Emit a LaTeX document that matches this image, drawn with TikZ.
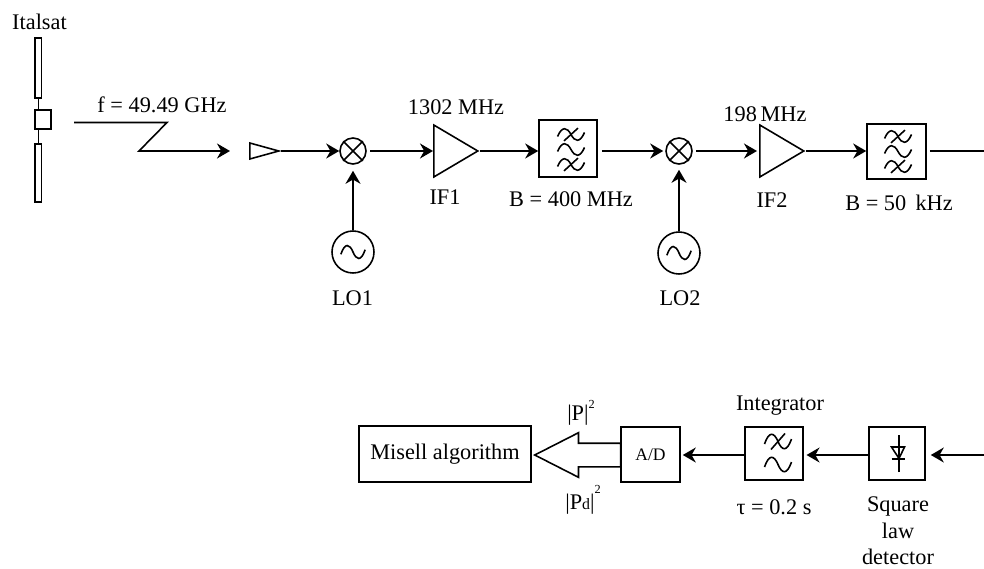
\documentclass[tikz,border=0pt]{standalone}
\usepackage{fontspec}
\setmainfont{Liberation Serif}
\usetikzlibrary{positioning,arrows.meta,shapes.geometric,shapes.arrows}

\newcommand{\lblfont}{\fontsize{12.7}{15}\selectfont}

\tikzset{
  thick/.style={line width=0.9pt},
  sig/.style={-{Stealth[length=2.6mm,width=3mm]}, thick},
  blk/.style={draw, thick, inner sep=0pt},
  mixer/.style={draw, thick, circle, inner sep=0pt, minimum size=0.52cm},
  osc/.style={draw, thick, circle, inner sep=0pt, minimum size=0.84cm},
  amp/.style={draw, thick, isosceles triangle, isosceles triangle stretches, inner sep=0pt,
    minimum width=1.04cm, minimum height=0.88cm, anchor=lower side},
  wave/.pic={\draw[thick] (-0.27,-0.05) .. controls (-0.18,0.21) and (-0.08,0.19) .. (0,0)
    .. controls (0.08,-0.19) and (0.18,-0.21) .. (0.27,0.05);},
  cutwave/.pic={\draw[thick] (-0.27,-0.05) .. controls (-0.18,0.21) and (-0.08,0.19) .. (0,0)
    .. controls (0.08,-0.19) and (0.18,-0.21) .. (0.27,0.05);
    \draw[thick] (-0.14,-0.16) -- (0.14,0.16);},
  diode/.pic={\draw[thick] (0.04,-0.37) -- (0.04,0.37);
    \draw[thick] (-0.11,0.13) -- (0.15,0.13) -- (0.04,-0.1) -- cycle;
    \draw[thick] (-0.11,-0.11) -- (0.16,-0.11);}
}

\begin{document}
\begin{tikzpicture}[every node/.style={font=\lblfont}]
  \useasboundingbox (0,0) rectangle (19.68,11.36);

  \node (sat) at (0.79,10.92) {Italsat};
  \node[blk, minimum width=0.13cm, minimum height=1.2cm] (ptop) at (0.766,10.0) {};
  \node[blk, minimum width=0.32cm, minimum height=0.37cm] (body) at (0.86,8.97) {};
  \node[blk, minimum width=0.13cm, minimum height=1.16cm] (pbot) at (0.766,7.9) {};
  \draw[thick] (ptop.south) -- (ptop.south |- body.north);
  \draw[thick] (pbot.north) -- (pbot.north |- body.south);

  \node (freq) at (3.24,9.26) {f = 49.49 GHz};
  \coordinate (za) at (1.48,8.91);
  \coordinate (zb) at (3.34,8.91);
  \coordinate (zc) at (2.78,8.34);
  \coordinate (zd) at (4.6,8.34);
  \draw[sig] (za) -- (zb) -- (zc) -- (zd);

  \node[draw, thick, isosceles triangle, isosceles triangle stretches, inner sep=0pt,
    minimum width=0.32cm, minimum height=0.58cm, anchor=lower side] (horn) at (4.98,8.34) {};
  \node[mixer] (m1) at (7.06,8.34) {};
  \draw[thick] (m1.45) -- (m1.225) (m1.135) -- (m1.315);
  \node[osc] (lo1) at (7.06,6.32) {};
  \pic[scale=0.9] at (lo1) {wave};
  \node (lo1txt) at (7.05,5.40) {LO1};
  \node[amp] (if1) at (8.66,8.34) {};
  \node (if1f) at (9.12,9.22) {1302 MHz};
  \node (if1txt) at (8.9,7.42) {IF1};
  \node[blk, minimum width=1.16cm, minimum height=1.14cm] (bpf1) at (11.36,8.39) {};
  \pic[yscale=0.8] at (11.42,8.67) {cutwave};
  \pic[yscale=0.8] at (11.42,8.37) {wave};
  \pic[yscale=0.8] at (11.42,8.07) {cutwave};
  \node (bpf1txt) at (11.42,7.38) {B = 400 MHz};

  \node[mixer] (m2) at (13.58,8.34) {};
  \draw[thick] (m2.45) -- (m2.225) (m2.135) -- (m2.315);
  \node[osc] (lo2) at (13.58,6.30) {};
  \pic[scale=0.9] at (lo2) {wave};
  \node (lo2txt) at (13.6,5.40) {LO2};
  \node[amp] (if2) at (15.18,8.34) {};
  \node (if2f) at (15.3,9.08) {198\,MHz};
  \node (if2txt) at (15.44,7.36) {IF2};
  \node[blk, minimum width=1.18cm, minimum height=1.10cm] (bpf2) at (17.93,8.33) {};
  \pic[yscale=0.8] at (17.96,8.63) {cutwave};
  \pic[yscale=0.8] at (17.96,8.33) {wave};
  \pic[yscale=0.8] at (17.96,8.03) {cutwave};
  \node (bpf2txt) at (17.98,7.30) {B = 50\, kHz};
  \coordinate (endtop) at (19.68,8.34);

  \draw[sig] (horn.apex) -- (m1.west);
  \draw[sig, shorten <=0.07cm] (m1.east) -- (if1.lower side);
  \draw[sig] (if1.apex) -- (if1.apex -| bpf1.west);
  \draw[sig, shorten <=0.08cm, shorten >=0.04cm] (bpf1.east |- m2.west) -- (m2.west);
  \draw[sig, shorten <=0.07cm, shorten >=0.04cm] (m2.east) -- (if2.lower side);
  \draw[sig] (if2.apex) -- (if2.apex -| bpf2.west);
  \draw[thick, shorten <=0.06cm] (bpf2.east |- endtop) -- (endtop);
  \draw[sig, shorten >=0.12cm] (lo1) -- (m1);
  \draw[sig, shorten >=0.1cm] (lo2) -- (m2);

  \node[blk, minimum width=3.44cm, minimum height=1.12cm] (misell) at (8.9,2.28) {Misell algorithm};
  \node[blk, minimum width=1.18cm, minimum height=1.10cm, font=\fontsize{10}{12}\selectfont] (adc) at (13.01,2.27) {A/D};
  \node[blk, minimum width=1.17cm, minimum height=1.06cm] (integ) at (15.48,2.29) {};
  \pic at (15.56,2.53) {cutwave};
  \pic at (15.56,2.07) {wave};
  \node[blk, minimum width=1.12cm, minimum height=1.06cm] (sqlaw) at (17.94,2.29) {};
  \pic at (17.94,2.29) {diode};
  \coordinate (endbot) at (19.68,2.26);

  \node[draw, thick, single arrow, shape border rotate=180, inner xsep=0pt, inner ysep=0.22cm,
    minimum height=1.72cm, minimum width=0.86cm, single arrow head extend=0.21cm,
    single arrow tip angle=54, single arrow head indent=0pt, anchor=tip] (data) at (10.66,2.26) {};

  \node (pwr) at (11.62,3.1) {|P|\raisebox{1.2ex}{\fontsize{7}{8}\selectfont 2}};
  \node (pwrd) at (11.66,1.36) {|P{\small d}|\raisebox{1.5ex}{\fontsize{7}{8}\selectfont 2}};
  \node (integtxt) at (15.6,3.24) {Integrator};
  \node (tautxt) at (15.48,1.22) {τ = 0.2 s};
  \node[align=center, font=\fontsize{12.7}{15}\selectfont] (sqtxt) at (17.96,0.74) {Square\\law\\detector};

  \draw[sig, shorten >=0.1cm] (endbot) -- (endbot -| sqlaw.east);
  \draw[sig, shorten >=0.05cm] (sqlaw.west |- endbot) -- (integ.east |- endbot);
  \draw[sig, shorten >=0.04cm] (integ.west |- endbot) -- (adc.east |- endbot);
\end{tikzpicture}
\end{document}
